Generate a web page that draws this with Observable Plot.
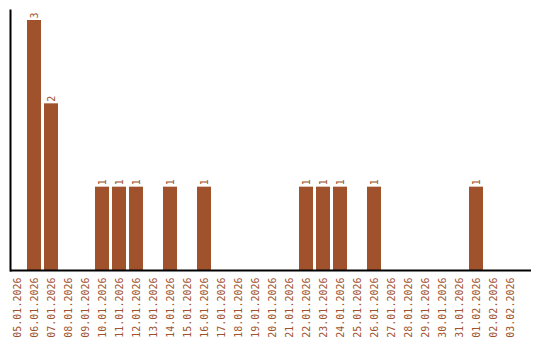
<!DOCTYPE html>
<html>
<head>
<meta charset="utf-8">
<script src="https://cdn.jsdelivr.net/npm/d3@7"></script>
<script src="https://cdn.jsdelivr.net/npm/@observablehq/plot@0.6"></script>
<style>
  html, body { margin: 0; padding: 0; background: #fff; }
  svg { display: block; }
</style>
</head>
<body>
<div id="chart"></div>
<script>
const dates = ["05.01.2026","06.01.2026","07.01.2026","08.01.2026","09.01.2026","10.01.2026","11.01.2026","12.01.2026","13.01.2026","14.01.2026","15.01.2026","16.01.2026","17.01.2026","18.01.2026","19.01.2026","20.01.2026","21.01.2026","22.01.2026","23.01.2026","24.01.2026","25.01.2026","26.01.2026","27.01.2026","28.01.2026","29.01.2026","30.01.2026","31.01.2026","01.02.2026","02.02.2026","03.02.2026"];
const counts = [0,3,2,0,0,1,1,1,0,1,0,1,0,0,0,0,0,1,1,1,0,1,0,0,0,0,0,1,0,0];

const data = dates.map((d, i) => ({date: d, count: counts[i]}));
const bars = data.filter(d => d.count > 0);
const color = "#a0522d";
const font = "DejaVu Sans Mono";

const chart = Plot.plot({
  width: 540,
  height: 340,
  marginLeft: 7,
  marginRight: 20,
  marginTop: 10,
  marginBottom: 70,
  style: {fontFamily: font, fontSize: "10px", background: "#fff"},
  x: {domain: dates, padding: 0.176, align: 0.5},
  y: {domain: [0, 3.12], axis: null},
  marks: [
    Plot.barY(bars, {x: "date", y: "count", fill: color}),
    Plot.text(bars, {x: "date", y: "count", text: d => String(d.count), rotate: -90, textAnchor: "start", dy: -2, fill: color, fontFamily: font, fontSize: 10}),
    Plot.frame({anchor: "left", dx: 3, stroke: "#000", strokeWidth: 2}),
    Plot.ruleY([0], {stroke: "#000", strokeWidth: 2, insetLeft: 3, insetRight: -11}),
    Plot.axisX({tickSize: 0, tickRotate: -90, tickPadding: 7, fill: color, fontFamily: font, fontSize: 10, label: null})
  ]
});
document.getElementById("chart").appendChild(chart);
</script>
</body>
</html>
